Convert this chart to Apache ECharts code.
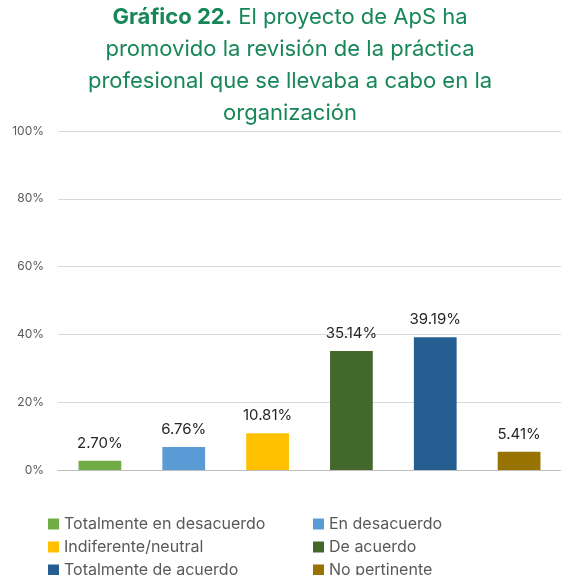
<!DOCTYPE html>
<html><head><meta charset="utf-8">
<script src="https://cdn.jsdelivr.net/npm/echarts@6/dist/echarts.min.js"></script>
<style>html,body{margin:0;padding:0;background:#fff}#c{width:561px;height:575px}</style>
</head><body><div id="c"></div>
<script>
const categories = ['Totalmente en desacuerdo','En desacuerdo','Indiferente/neutral','De acuerdo','Totalmente de acuerdo','No pertinente'];
const values = [2.70, 6.76, 10.81, 35.14, 39.19, 5.41];
const colors = ['#70ad47','#5b9bd5','#ffc000','#43682b','#255e91','#997300'];
const yTicks = [0, 20, 40, 60, 80, 100];
const FONT = 'Inter, "Open Sans", sans-serif';

const series = categories.map((name, i) => ({
  name: name,
  type: 'bar',
  stack: 'all',
  barWidth: '51%',
  itemStyle: { color: colors[i] },
  data: categories.map((c, j) => j === i ? values[i] : null),
  label: {
    show: true, position: 'top', distance: 10,
    formatter: p => p.value.toFixed(2) + '%',
    color: '#262626', fontSize: 15, fontFamily: FONT
  }
}));

const legendCommon = {
  orient: 'vertical', top: 511, height: 120, itemGap: 7,
  icon: 'rect', itemWidth: 11, itemHeight: 11,
  textStyle: { color: '#595959', fontSize: 16, fontFamily: FONT, lineHeight: 15.5 }
};

const chart = echarts.init(document.getElementById('c'), null, {renderer: 'canvas'});
chart.setOption({
  animation: false,
  title: {
    text: '{b|Gráfico 22.} El proyecto de ApS ha\npromovido la revisión de la práctica\nprofesional que se llevaba a cabo en la\norganización',
    left: 290, textAlign: 'center', top: 2, padding: 0,
    textStyle: {
      color: '#17875a', fontSize: 22, fontWeight: 'normal', fontFamily: FONT, lineHeight: 31.7,
      rich: { b: { fontWeight: 'bold', fontSize: 22, color: '#17875a', fontFamily: FONT, lineHeight: 31.7 } }
    }
  },
  grid: { left: 58, right: -5, top: 131, bottom: 105, containLabel: false },
  xAxis: {
    type: 'category', data: categories,
    axisLine: { lineStyle: { color: '#bfbfbf' } },
    axisTick: { show: false }, axisLabel: { show: false }
  },
  yAxis: {
    type: 'value', min: yTicks[0], max: yTicks[yTicks.length - 1], interval: 20,
    axisLabel: { formatter: '{value}%', color: '#595959', fontSize: 12, fontFamily: FONT, margin: 14 },
    splitLine: { lineStyle: { color: '#d9d9d9' } },
    axisLine: { show: false }, axisTick: { show: false }
  },
  legend: [
    Object.assign({ data: [categories[0], categories[2], categories[4]], left: 43 }, legendCommon),
    Object.assign({ data: [categories[1], categories[3], categories[5]], left: 308 }, legendCommon)
  ],
  series: series
});
</script></body></html>
